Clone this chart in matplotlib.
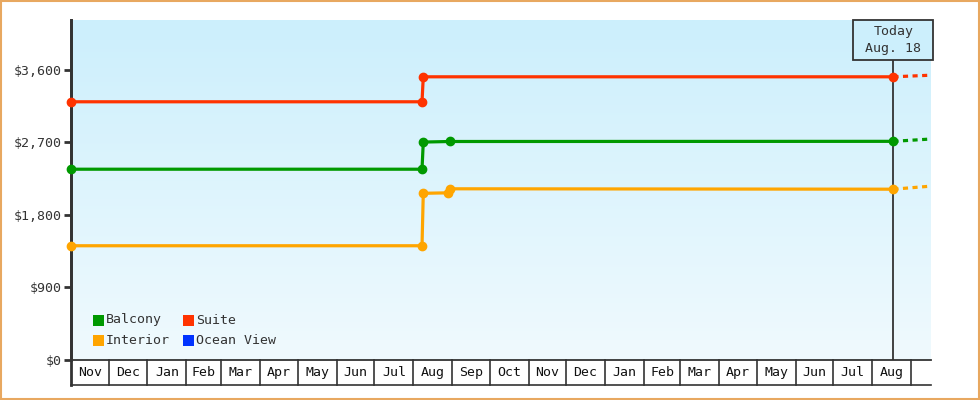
import numpy as np
import matplotlib
matplotlib.use("Agg")
import matplotlib.pyplot as plt
import matplotlib.dates as mdates
import matplotlib.transforms as mtransforms
from matplotlib.patches import Rectangle
from datetime import date

# price history (cabin category -> dates / prices)
suite_dates = ["2022-11-01", "2023-08-08", "2023-08-09", "2024-08-18"]
suite_prices = [3205, 3205, 3515, 3515]
balcony_dates = ["2022-11-01", "2023-08-08", "2023-08-09", "2023-08-30", "2024-08-18"]
balcony_prices = [2368, 2368, 2705, 2712, 2714]
interior_dates = ["2022-11-01", "2023-08-08", "2023-08-09", "2023-08-29", "2023-08-30", "2024-08-18"]
interior_prices = [1418, 1418, 2069, 2075, 2125, 2120]

# projected prices after today
proj_dates = ["2024-08-18", "2024-09-17"]
suite_proj = [3515, 3535]
balcony_proj = [2714, 2743]
interior_proj = [2120, 2158]

legend_names = ["Balcony", "Interior", "Suite", "Ocean View"]
legend_colors = ["#009900", "#ffa500", "#ff3300", "#0033ff"]

yticks = [0, 900, 1800, 2700, 3600]
ytick_labels = ["$0", "$900", "$1,800", "$2,700", "$3,600"]

today = "2024-08-18"
today_label = "Today\nAug. 18"
month_starts = ["2022-11-01", "2022-12-01", "2023-01-01", "2023-02-01", "2023-03-01",
                "2023-04-01", "2023-05-01", "2023-06-01", "2023-07-01", "2023-08-01",
                "2023-09-01", "2023-10-01", "2023-11-01", "2023-12-01", "2024-01-01",
                "2024-02-01", "2024-03-01", "2024-04-01", "2024-05-01", "2024-06-01",
                "2024-07-01", "2024-08-01", "2024-09-01"]


def dn(lst):
    return mdates.date2num([date.fromisoformat(d) for d in lst])


plt.rcParams['font.family'] = ['DejaVu Sans Mono']
AX = "#333333"
FS = 9.5

fig = plt.figure(figsize=(9.8, 4.0), dpi=100)
ax = fig.add_axes([71 / 980, 40 / 400, 860 / 980, 340 / 400])

x0 = dn(["2022-11-01"])[0]
x1 = dn(["2024-09-17"])[0]
ax.set_xlim(x0, x1)
ax.set_ylim(0, 4220)

# gradient background
grad = np.linspace(0, 1, 256).reshape(-1, 1)
top = np.array([204, 239, 252]) / 255
bot = np.array([240, 250, 254]) / 255
img = top + (bot - top) * grad[..., None]
img = img.reshape(256, 1, 3)
ax.imshow(img, extent=[x0, x1, 0, 4220], aspect="auto", zorder=0, origin="upper")

series = [
    (suite_dates, suite_prices, suite_proj, "#ff3300"),
    (balcony_dates, balcony_prices, balcony_proj, "#009900"),
    (interior_dates, interior_prices, interior_proj, "#ffa500"),
]
for d, p, proj, c in series:
    ax.plot(dn(d), p, color=c, lw=2.3, marker="o", ms=6, zorder=4, clip_on=False)
    ax.plot(dn(proj_dates), proj, color=c, lw=2.3, ls=(0, (1.6, 1.4)),
            dash_capstyle="butt", zorder=3)

# today marker
tx = dn([today])[0]
ax.plot([tx, tx], [0, 3740], color=AX, lw=1.3, zorder=3)
px_per_day = 860 / (x1 - x0)
bw = 80 / px_per_day
trans = mtransforms.blended_transform_factory(ax.transData, ax.transAxes)
ax.add_patch(Rectangle((tx - bw / 2, 300 / 340), bw, 40 / 340, transform=trans,
                       facecolor=(204 / 255, 239 / 255, 252 / 255), edgecolor=AX, lw=1.3,
                       clip_on=False, zorder=5))
ax.text(tx, 320 / 340, today_label, transform=trans, ha="center", va="center",
        fontsize=FS, color="#333333", linespacing=1.35, zorder=6)

# axes styling
for s in ["top", "right"]:
    ax.spines[s].set_visible(False)
ax.spines["left"].set_color(AX)
ax.spines["left"].set_linewidth(2)
ax.spines["bottom"].set_color(AX)
ax.spines["bottom"].set_linewidth(1.3)
ax.set_yticks(yticks)
ax.set_yticklabels(ytick_labels)
ax.tick_params(axis="y", length=5, width=2, color=AX, labelsize=FS, labelcolor="#333333", pad=2)
ax.set_xticks([])

# month cells below the axis
cell_h = 25 / 340
ms = dn(month_starts)
for i in range(len(ms) - 1):
    mid = (ms[i] + ms[i + 1]) / 2
    ax.text(mid, -cell_h / 2, date.fromisoformat(month_starts[i]).strftime("%b"),
            transform=trans, ha="center", va="center", fontsize=FS, color="#111111")
for m in ms[1:]:
    ax.plot([m, m], [0, -cell_h], transform=trans, color=AX, lw=1.2, clip_on=False)
ax.plot([x0, x1], [-cell_h, -cell_h], transform=trans, color=AX, lw=1.2, clip_on=False)
ax.plot([x0, x0], [-cell_h, 1], transform=trans, color=AX, lw=2, clip_on=False)

# legend
lx = [22 / 860, 112 / 860]
ly = [40 / 340, 20 / 340]
for i, (name, col) in enumerate(zip(legend_names, legend_colors)):
    cx = lx[i // 2]
    cy = ly[i % 2]
    ax.add_patch(Rectangle((cx, cy - 5.5 / 340), 11 / 860, 11 / 340, transform=ax.transAxes,
                           facecolor=col, edgecolor="none", zorder=5))
    ax.text(cx + 13 / 860, cy, name, transform=ax.transAxes, ha="left", va="center",
            fontsize=FS, color="#333333", zorder=5)

# outer frame
fig.add_artist(Rectangle((0.001, 0.002), 0.998, 0.996, transform=fig.transFigure,
                         fill=False, edgecolor="#e8a860", lw=1.5))

fig.savefig("out.png", dpi=100)
